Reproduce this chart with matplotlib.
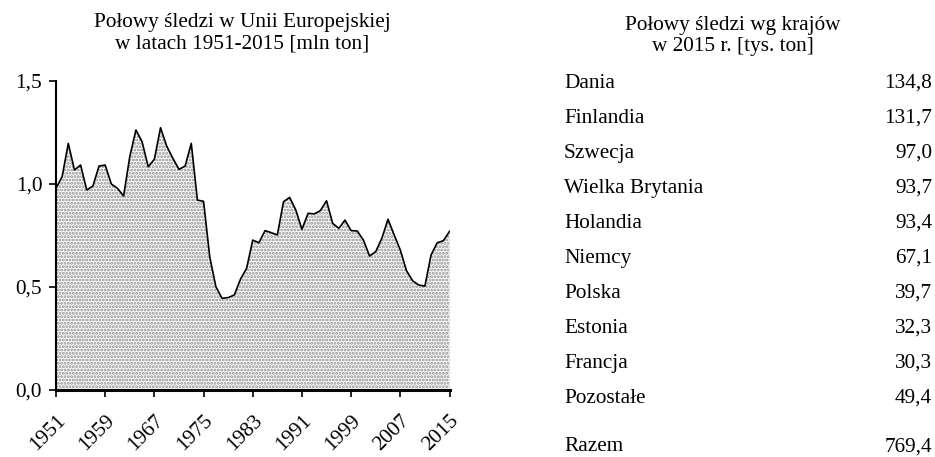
'''
Połowy śledzi w UE 1951-2015 oraz połowy wg krajów w 2015 r.
'''

import numpy as np
import matplotlib
matplotlib.use('Agg')
import matplotlib.pyplot as plt

plt.rcParams['font.family'] = ['Liberation Serif', 'DejaVu Serif']
plt.rcParams['hatch.linewidth'] = 1.4

# dane: połowy w mln ton
years = np.arange(1951, 2016)
catch = [0.978, 1.035, 1.196, 1.067, 1.091, 0.970, 0.989, 1.086, 1.091, 0.999,
         0.978, 0.941, 1.132, 1.261, 1.204, 1.083, 1.119, 1.272, 1.183, 1.124,
         1.070, 1.086, 1.196, 0.921, 0.915, 0.647, 0.501, 0.445, 0.448, 0.461,
         0.537, 0.590, 0.727, 0.714, 0.773, 0.763, 0.752, 0.913, 0.934, 0.873,
         0.779, 0.857, 0.854, 0.870, 0.918, 0.808, 0.784, 0.824, 0.773, 0.771,
         0.727, 0.650, 0.671, 0.736, 0.828, 0.752, 0.679, 0.579, 0.530, 0.509,
         0.504, 0.655, 0.714, 0.724, 0.769]
tick_years = [1951, 1959, 1967, 1975, 1983, 1991, 1999, 2007, 2015]
y_ticks = [0.0, 0.5, 1.0, 1.5]
y_labels = ['0,0', '0,5', '1,0', '1,5']

# dane: tabela krajów (tys. ton)
countries = ['Dania', 'Finlandia', 'Szwecja', 'Wielka Brytania', 'Holandia',
             'Niemcy', 'Polska', 'Estonia', 'Francja', 'Pozostałe']
values = ['134,8', '131,7', '97,0', '93,7', '93,4', '67,1', '39,7', '32,3',
          '30,3', '49,4']
total_label = 'Razem'
total_value = '769,4'

W, H = 935, 457
fig = plt.figure(figsize=(W / 100, H / 100), dpi=100)

def fx(px):
    return px / W

def fy(py):
    return 1 - py / H

fs = 15.3

# wykres
ax = fig.add_axes([fx(56), fy(390), fx(449.5) - fx(56), fy(80.7) - fy(390)])
ax.fill_between(years, catch, 0, facecolor='white', edgecolor='#8c8c8c',
                hatch='.....', linewidth=0)
ax.plot(years, catch, color='black', linewidth=1.2)
ax.set_xlim(1951, 2015)
ax.set_ylim(0, 1.5)
ax.spines['top'].set_visible(False)
ax.spines['right'].set_visible(False)
ax.spines['left'].set_linewidth(1.5)
ax.spines['bottom'].set_linewidth(2.2)
ax.set_yticks(y_ticks)
ax.set_yticklabels(y_labels, fontsize=fs)
ax.set_xticks(tick_years)
ax.set_xticklabels([str(y) for y in tick_years], fontsize=fs, rotation=45,
                   ha='right', rotation_mode='anchor')
ax.tick_params(axis='both', direction='out', length=5, width=1.2, color='black')
ax.tick_params(axis='y', pad=5)
ax.tick_params(axis='x', pad=10)

fig.text(fx(242), fy(33), 'Połowy śledzi w Unii Europejskiej\nw latach 1951-2015 [mln ton]',
         ha='center', va='center', fontsize=fs, linespacing=1.2)

# tabela
fig.text(fx(733), fy(36), 'Połowy śledzi wg krajów\nw 2015 r. [tys. ton]',
         ha='center', va='center', fontsize=fs, linespacing=1.2)

row_y0 = 83.3
row_step = 35.0
for i, (c, v) in enumerate(zip(countries, values)):
    y = row_y0 + i * row_step
    fig.text(fx(564), fy(y), c, ha='left', va='center', fontsize=fs)
    fig.text(fx(932), fy(y), v, ha='right', va='center', fontsize=fs)

fig.text(fx(564), fy(446.7), total_label, ha='left', va='center', fontsize=fs)
fig.text(fx(932), fy(446.7), total_value, ha='right', va='center', fontsize=fs)

plt.savefig('out.png', dpi=100)
